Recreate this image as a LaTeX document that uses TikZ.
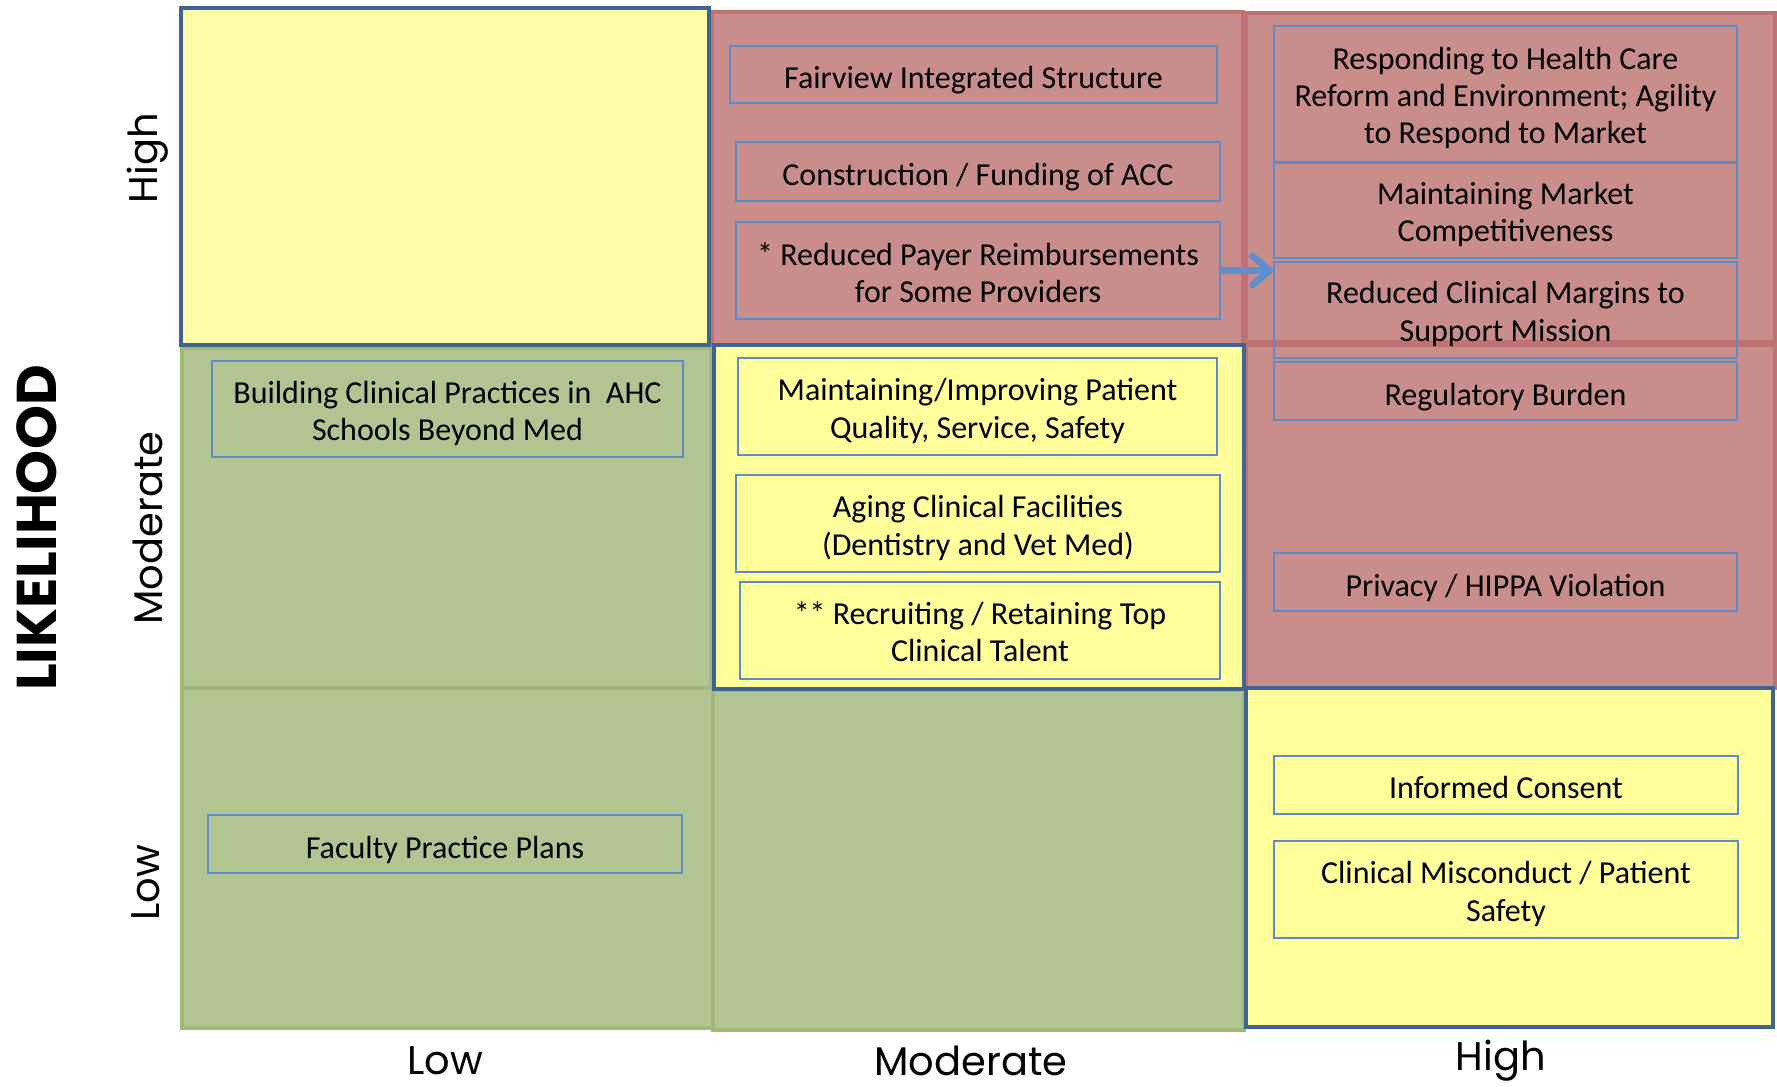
\documentclass[tikz,border=0pt]{standalone}
\usepackage{fontspec}
\setmainfont{Carlito}
\newfontfamily\axisfont{Poppins}
\usetikzlibrary{arrows.meta}
\definecolor{yelA}{HTML}{FFFBA6}
\definecolor{yelB}{HTML}{FFFE9B}
\definecolor{grnF}{HTML}{B3C493}
\definecolor{grnB}{HTML}{A0B878}
\definecolor{redF}{HTML}{C98D8C}
\definecolor{redB}{HTML}{C07272}
\definecolor{bluK}{HTML}{3F6494}
\definecolor{bluB}{HTML}{5C8BC7}
\definecolor{arrB}{HTML}{5B8FCF}
\tikzset{
  cellg/.style={fill=grnF,draw=grnB,line width=3.5pt},
  cellr/.style={fill=redF,draw=redB,line width=3.5pt},
  celly/.style={draw=bluK,line width=3.5pt},
  riskbox/.style={draw=bluB,line width=1.6pt,inner sep=0pt},
  risktext/.style={inner sep=0pt,align=center,font=\fontsize{24}{28}\selectfont},
  axislbl/.style={font=\axisfont\fontsize{30}{36}\selectfont},
}
% #1 text shift (px), #2 name, #3..#6 corners, #7 text
\newcommand\rbox[7][4.5]{%
  \node[riskbox,minimum width={(#5-#3)*0.75pt},minimum height={(#6-#4)*0.75pt}] (#2) at ({(#3+#5)/2},{(#4+#6)/2}) {};
  \node[risktext] (#2-t) at ([yshift=-#1*0.75pt]#2.center) {#7};}
\begin{document}
\begin{tikzpicture}[x=0.75pt,y=-0.75pt]
\useasboundingbox (0,0) rectangle (1777,1087);
% green cells
\path[cellg] (182,348) rectangle (711,688);
\path[cellg] (182,688) rectangle (713,1028);
\path[cellg] (713,690) rectangle (1244,1030);
% red cells
\path[cellr] (712,12) rectangle (1243,345);
\path[cellr] (1246,345) rectangle (1775,688);
\path[cellr] (1246,13) rectangle (1775,342);
% yellow cells
\path[celly,fill=yelA] (181,8) rectangle (709,345);
\path[celly,fill=yelB] (714,345) rectangle (1244,689);
\path[celly,fill=yelB] (1246,688) rectangle (1773,1027);
% boxes
\rbox[5.7]{fairview}{730}{46}{1217}{103}{Fairview Integrated Structure}
\rbox[5.7]{constr}{736}{142}{1220}{201}{Construction / Funding of ACC}
\rbox[2.5]{payer}{736}{222}{1220}{319}{* Reduced Payer Reimbursements\\for Some Providers}
\rbox[4]{respond}{1274}{26}{1737}{162}{Responding to Health Care\\Reform and Environment; Agility\\to Respond to Market}
\rbox[4]{market}{1274}{163}{1737}{258}{Maintaining Market\\Competitiveness}
\rbox[4]{margins}{1274}{262}{1737}{358}{Reduced Clinical Margins to\\Support Mission}
\rbox[5.7]{regul}{1274}{362}{1737}{420}{Regulatory Burden}
\rbox[5.7]{privacy}{1274}{553}{1737}{611}{Privacy / HIPPA Violation}
\rbox[4.5]{quality}{738}{358}{1217}{455}{Maintaining/Improving Patient\\Quality, Service, Safety}
\rbox[4.5]{aging}{736}{475}{1220}{572}{Aging Clinical Facilities\\(Dentistry and Vet Med)}
\rbox[1.5]{recruit}{740}{582}{1220}{679}{** Recruiting / Retaining Top\\Clinical Talent}
\rbox[4.5]{building}{212}{361}{683}{457}{Building Clinical Practices in\ \ AHC\\Schools Beyond Med}
\rbox[5.7]{faculty}{208}{815}{682}{873}{Faculty Practice Plans}
\rbox[2.5]{consent}{1274}{756}{1738}{814}{Informed Consent}
\rbox[4.5]{miscond}{1274}{841}{1738}{938}{Clinical Misconduct / Patient\\Safety}
% arrow
\draw[arrB,line width=5pt,-{Straight Barb[length=13pt,width=22pt,round]}] (payer.east) -- (payer.east -| margins.west);
% axis labels
\node[axislbl] (xlow) at (445,1061) {Low};
\node[axislbl] (xmod) at (971,1061) {Moderate};
\node[axislbl] (xhigh) at (1501,1061) {High};
\node[axislbl,rotate=90] (yhigh) at (148,158) {High};
\node[axislbl,rotate=90] (ymod) at (148,528) {Moderate};
\node[axislbl,rotate=90] (ylow) at (146,883) {Low};
\node[font=\axisfont\bfseries\fontsize{42}{48}\selectfont,rotate=90] (likely) at (37,528) {LIKELIHOOD};
\end{tikzpicture}
\end{document}
